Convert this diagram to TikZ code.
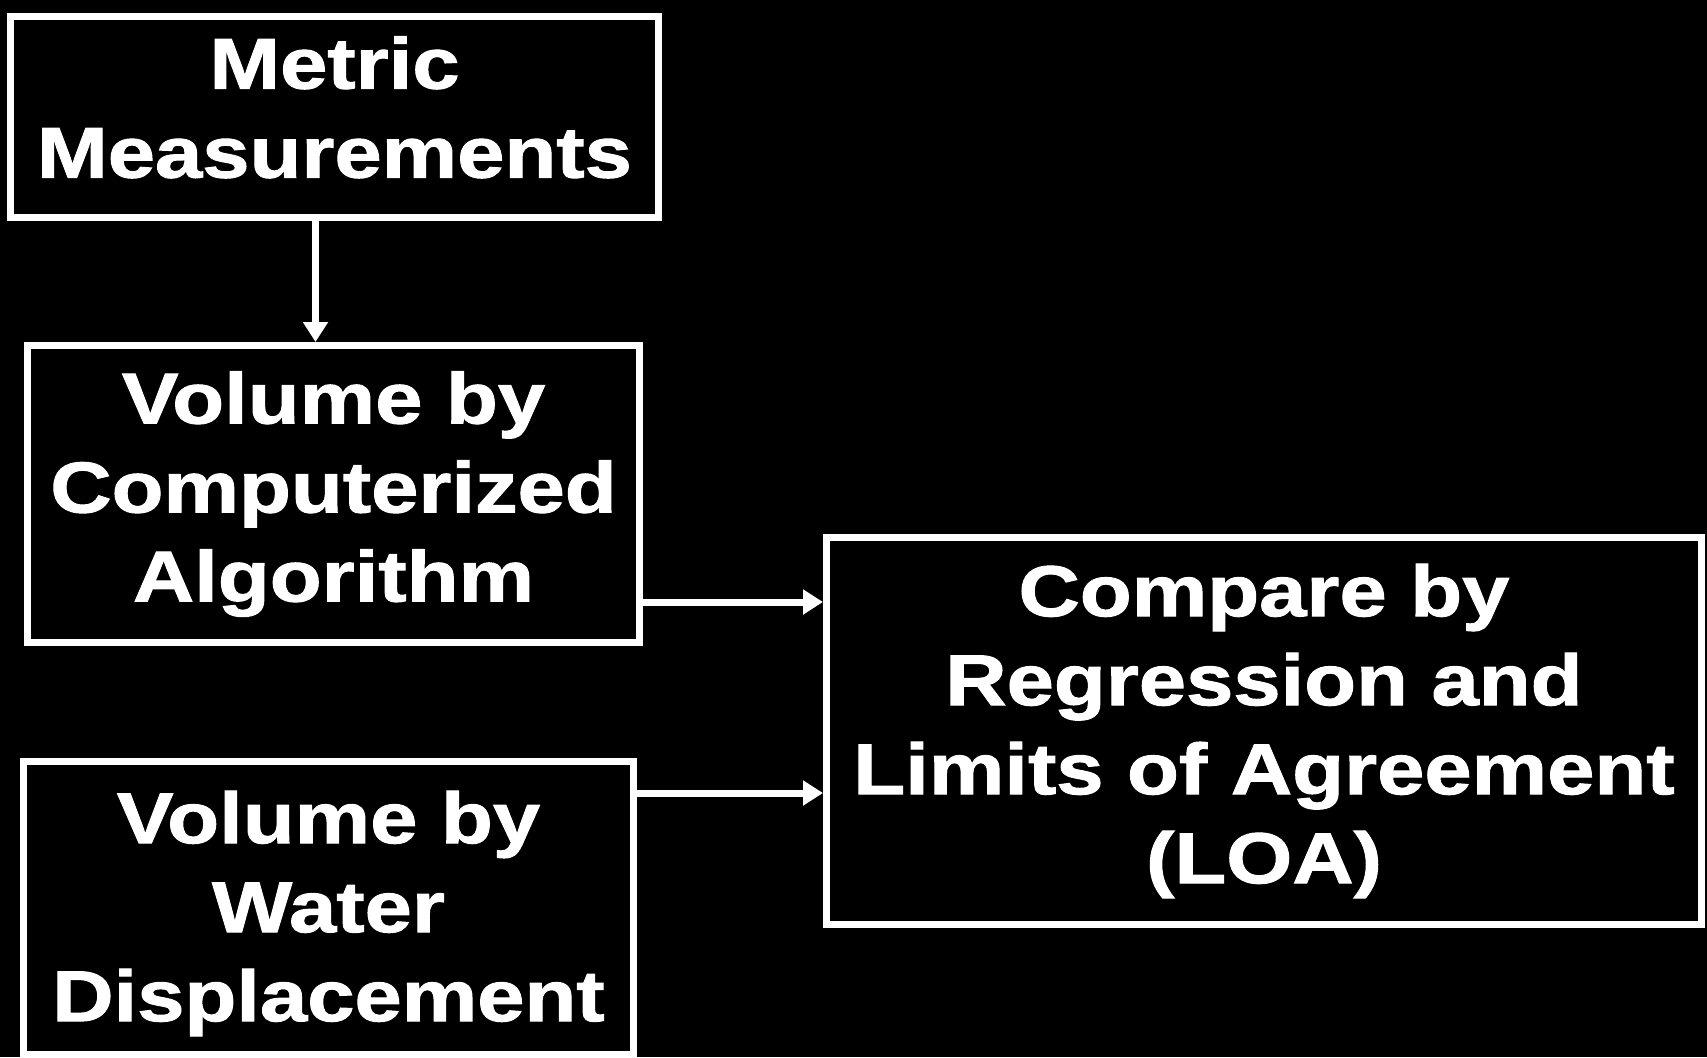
\documentclass[tikz,border=0pt]{standalone}
\usepackage{fontspec}
\newfontfamily\boxfont{Liberation Sans}[FakeStretch=1.18,FakeBold=1.4]
\usetikzlibrary{arrows.meta}
\begin{document}
\begin{tikzpicture}[x=1pt,y=-1pt,line join=miter,
  box/.style={draw=white,line width=7pt,text=white,align=center,inner sep=0pt,
    font=\boxfont\bfseries\fontsize{72}{89}\selectfont},
  arr/.style={draw=white,line width=7pt,-{Triangle[length=20pt,width=24pt]}}]
  \useasboundingbox (0,0) rectangle (1707,1057);
  \fill[black] (0,0) rectangle (1707,1057);
  \node[box,minimum width=648pt,minimum height=201pt,text depth=20pt] (metric) at (334.5,117) {Metric\\Measurements};
  \node[box,minimum width=612pt,minimum height=297pt] (algo) at (333.5,494) {Volume by\\Computerized\\Algorithm};
  \node[box,minimum width=610pt,minimum height=293pt,text depth=4pt] (water) at (328.5,908) {Volume by\\Water\\Displacement};
  \node[box,minimum width=875pt,minimum height=387pt] (compare) at (1264,731) {Compare by\\Regression and\\Limits of Agreement\\(LOA)};
  \draw[arr] ([xshift=-19pt]metric.south) -- ([xshift=-19pt]metric.south |- algo.north);
  \draw[arr] ([yshift=-108pt]algo.east) -- ([yshift=-108pt]algo.east -| compare.west);
  \draw[arr] ([yshift=115pt]water.east) -- ([yshift=115pt]water.east -| compare.west);
\end{tikzpicture}
\end{document}
